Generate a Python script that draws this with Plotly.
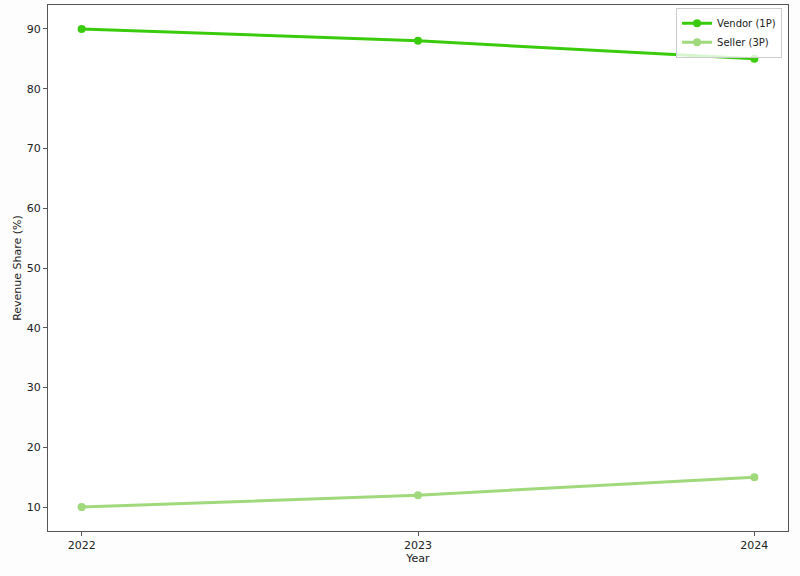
import plotly.graph_objects as go

years = [2022, 2023, 2024]
vendor_share = [90, 88, 85]
seller_share = [10, 12, 15]

fig = go.Figure()
fig.add_trace(go.Scatter(x=years, y=vendor_share, mode="lines+markers", name="Vendor (1P)",
                         line=dict(color="#3acc0c", width=3),
                         marker=dict(size=8, color="#3acc0c")))
fig.add_trace(go.Scatter(x=years, y=seller_share, mode="lines+markers", name="Seller (3P)",
                         line=dict(color="#a0d97c", width=3),
                         marker=dict(size=8, color="#a0d97c")))

axis_style = dict(showgrid=False, zeroline=False, showline=True, linecolor="#555555", linewidth=1,
                  mirror=True, ticks="outside", ticklen=4, tickcolor="#555555", automargin=False,
                  tickfont=dict(size=11, color="#222222"))

fig.update_layout(
    width=800, height=576,
    paper_bgcolor="#fdfdfd", plot_bgcolor="white",
    font=dict(family="DejaVu Sans", size=11, color="#222222"),
    margin=dict(l=48, r=12, t=5, b=45),
    xaxis=dict(title=dict(text="Year", font=dict(size=11), standoff=2), range=[2021.9, 2024.1],
               tickvals=years, ticktext=[str(y) for y in years], **axis_style),
    yaxis=dict(title=dict(text="Revenue Share (%)", font=dict(size=11), standoff=2), range=[6, 94],
               tickvals=[10, 20, 30, 40, 50, 60, 70, 80, 90], **axis_style),
    legend=dict(x=0.992, y=0.995, xanchor="right", yanchor="top", bgcolor="rgba(255,255,255,0.8)",
                bordercolor="#cccccc", borderwidth=1, font=dict(size=10), itemwidth=30,
                tracegroupgap=0),
)

# drop the browser's default body margin so the figure sits at the page corner
fig.write_html("out.html", config={"displayModeBar": False},
               post_script="document.body.style.margin='0';")
